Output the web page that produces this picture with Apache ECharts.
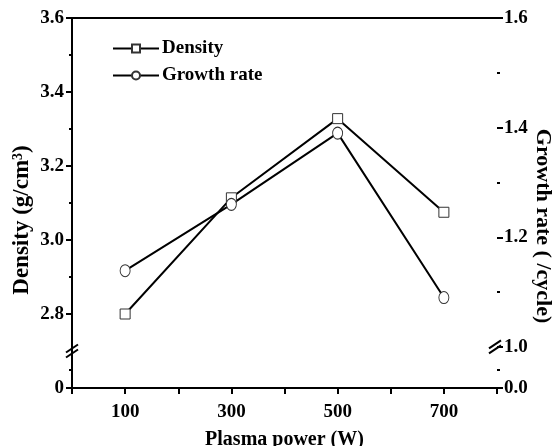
<!DOCTYPE html>
<html>
<head>
<meta charset="utf-8">
<script src="https://cdn.jsdelivr.net/npm/echarts@6/dist/echarts.min.js"></script>
<style>
  html, body { margin: 0; padding: 0; background: #fff; }
  #chart { width: 557px; height: 446px; }
</style>
</head>
<body>
<div id="chart"></div>
<script>
// plasma power (W)
const power = [100, 300, 500, 700];
const density = [2.80, 3.114, 3.328, 3.075];
const growthRate = [1.139, 1.26, 1.39, 1.09];

const xLabels = [100, 300, 500, 700];
// the bottom value of each broken axis is labelled 0
const leftTicks = [2.6, 2.8, 3.0, 3.2, 3.4, 3.6];
const leftMinor = [2.65, 2.9, 3.1, 3.3, 3.5];
const rightTicks = [0.925, 1.0, 1.2, 1.4, 1.6];
const rightMinor = [0.958, 1.1, 1.3, 1.5];

const font = "Liberation Serif";
const black = "#000";

function pairs(ys) {
  return power.map((p, i) => [p, ys[i]]);
}

let myChart = echarts.init(document.getElementById("chart"));

const axisLine = { show: true, lineStyle: { color: black, width: 2 } };
const labelStyle = {
  color: black,
  fontFamily: font,
  fontWeight: "bold",
  fontSize: 19
};

// extra axes that only draw tick marks at the given values
function tickAxis(position, min, max, values, length) {
  return {
    type: "value",
    position: position,
    min: min,
    max: max,
    axisLine: { show: false },
    axisTick: { show: true, length: length, customValues: values, lineStyle: { color: black, width: 2 } },
    axisLabel: { show: false },
    splitLine: { show: false }
  };
}

let option = {
  animation: false,
  backgroundColor: "#fff",
  grid: { left: 72, right: 60, top: 18, bottom: 58, containLabel: false, outerBoundsMode: "none" },
  legend: {
    orient: "vertical",
    left: 107,
    top: 34,
    itemWidth: 46,
    itemHeight: 10,
    itemGap: 8,
    textStyle: { ...labelStyle, padding: [0, 0, 0, -2] },
    data: ["Density", "Growth rate"]
  },
  xAxis: [
    {
      type: "value",
      min: 0,
      max: 800,
      interval: 100,
      axisLine: axisLine,
      axisTick: { show: true, inside: false, length: 6, lineStyle: { color: black, width: 2 } },
      axisLabel: {
        ...labelStyle,
        margin: 15,
        formatter: v => (xLabels.indexOf(v) >= 0 ? String(v) : "")
      },
      splitLine: { show: false },
      name: "Plasma power (W)",
      nameLocation: "middle",
      nameGap: 42,
      nameTextStyle: { ...labelStyle, fontSize: 20 }
    },
    {
      type: "value",
      position: "top",
      min: 0,
      max: 800,
      axisLine: axisLine,
      axisTick: { show: false },
      axisLabel: { show: false },
      splitLine: { show: false }
    }
  ],
  yAxis: [
    {
      type: "value",
      position: "left",
      min: 2.6,
      max: 3.6,
      axisLine: axisLine,
      axisTick: { show: false },
      axisLabel: {
        ...labelStyle,
        margin: 8,
        customValues: leftTicks,
        formatter: v => (v < 2.7 ? "0" : v.toFixed(1))
      },
      splitLine: { show: false },
      name: "Density (g/cm{sup|3})",
      nameLocation: "middle",
      nameRotate: 90,
      nameGap: 38,
      nameMoveOverlap: false,
      nameTextStyle: {
        ...labelStyle,
        fontSize: 23,
        padding: [0, 34, 0, 0],
        rich: { sup: { fontFamily: font, fontWeight: "bold", fontSize: 14, verticalAlign: "top", padding: [0, 0, 9, 0] } }
      }
    },
    {
      type: "value",
      position: "right",
      min: 0.925,
      max: 1.6,
      axisLine: axisLine,
      axisTick: { show: false },
      axisLabel: {
        ...labelStyle,
        margin: 7,
        customValues: rightTicks,
        formatter: v => (v < 0.95 ? "0.0" : v.toFixed(1))
      },
      splitLine: { show: false },
      name: "Growth rate ( /cycle)",
      nameLocation: "middle",
      nameRotate: -90,
      nameGap: 35,
      nameMoveOverlap: false,
      nameTextStyle: { ...labelStyle, fontSize: 22, padding: [0, 0, 0, 46] }
    },
    tickAxis("left", 2.6, 3.6, leftTicks, 6),
    tickAxis("right", 0.925, 1.6, rightTicks, 6),
    tickAxis("left", 2.6, 3.6, leftMinor, 3),
    tickAxis("right", 0.925, 1.6, rightMinor, 3)
  ],
  series: [
    {
      name: "Density",
      type: "line",
      yAxisIndex: 0,
      data: pairs(density),
      symbol: "rect",
      symbolSize: 10,
      lineStyle: { color: black, width: 2 },
      itemStyle: { color: "#fff", borderColor: "#333", borderWidth: 1 }
    },
    {
      name: "Growth rate",
      type: "line",
      yAxisIndex: 1,
      data: pairs(growthRate),
      symbol: "circle",
      symbolSize: [10, 12],
      lineStyle: { color: black, width: 2 },
      itemStyle: { color: "#fff", borderColor: "#333", borderWidth: 1 }
    }
  ]
};
myChart.setOption(option);

// axis break marks
function breakMark(x, y) {
  return [0, 5].map(dy => ({
    type: "line",
    shape: { x1: x - 6, y1: y + 4 + dy - 2.5, x2: x + 6, y2: y - 4 + dy - 2.5 },
    style: { stroke: black, lineWidth: 2 },
    z: 10
  }));
}
const lx = myChart.convertToPixel({ xAxisIndex: 0 }, 0);
const rx = myChart.convertToPixel({ xAxisIndex: 0 }, 800);
const ly = myChart.convertToPixel({ yAxisIndex: 0 }, 2.7);
const ry = myChart.convertToPixel({ yAxisIndex: 1 }, 1.0);
myChart.setOption({
  graphic: breakMark(lx, ly).concat(breakMark(rx - 2, ry))
});
</script>
</body>
</html>
